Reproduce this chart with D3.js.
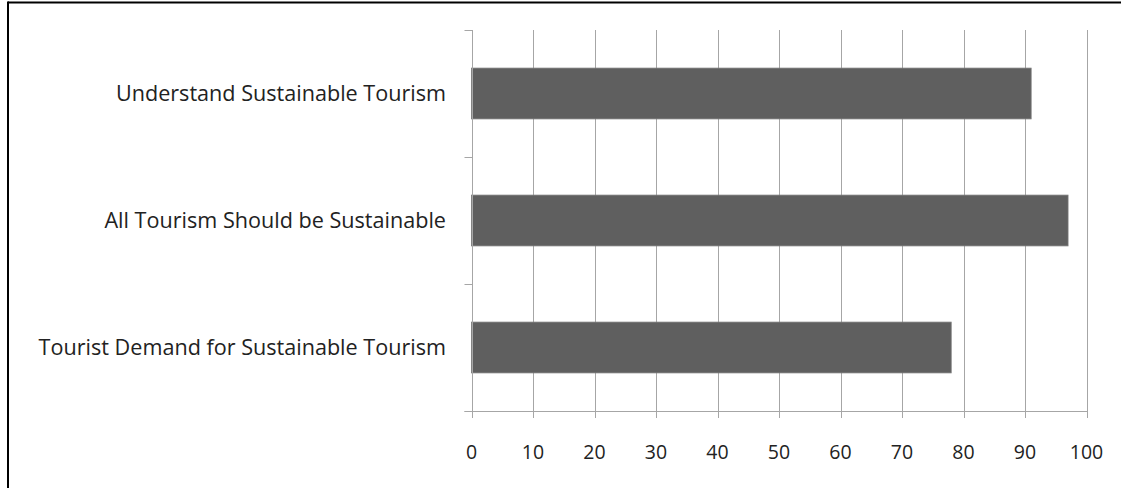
<!DOCTYPE html>
<html>
<head>
<meta charset="utf-8">
<script src="https://cdn.jsdelivr.net/npm/d3@7"></script>
<style>
  html, body { margin: 0; padding: 0; background: #fff; }
  svg { display: block; }
</style>
</head>
<body>
<svg id="chart" width="1121" height="488"></svg>
<script>
const categories = [
  "Understand Sustainable Tourism",
  "All Tourism Should be Sustainable",
  "Tourist Demand for Sustainable Tourism"
];
const values = [91, 97, 78];
const xTicks = [0, 10, 20, 30, 40, 50, 60, 70, 80, 90, 100];

const svg = d3.select("#chart");
const W = 1121, H = 488;
const plot = { left: 471.5, right: 1086.5, top: 30, bottom: 411 };
const font = "'Open Sans', 'DejaVu Sans', sans-serif";

svg.append("rect").attr("width", W).attr("height", H).attr("fill", "#fff");

const x = d3.scaleLinear().domain([0, 100]).range([plot.left, plot.right]);
const y = d3.scaleBand().domain(categories).range([plot.top, plot.bottom])
  .paddingInner(0.6).paddingOuter(0.3);

// vertical gridlines (extend below axis as tick marks)
svg.append("g").selectAll("line").data(xTicks.filter(d => d > 0)).join("line")
  .attr("x1", d => Math.round(x(d)) + 0.5).attr("x2", d => Math.round(x(d)) + 0.5)
  .attr("y1", plot.top).attr("y2", plot.bottom + 7)
  .attr("stroke", "#a6a6a6").attr("stroke-width", 1);

// bars
svg.append("g").selectAll("rect").data(values).join("rect")
  .attr("x", x(0))
  .attr("y", (d, i) => y(categories[i]))
  .attr("width", d => x(d) - x(0))
  .attr("height", y.bandwidth())
  .attr("fill", "#5f5f5f")
  .attr("stroke", "#7a7a7a").attr("stroke-width", 0.8);

// y axis line and boundary ticks
const yAxisX = Math.round(x(0)) + 0.5;
svg.append("line").attr("x1", yAxisX).attr("x2", yAxisX)
  .attr("y1", plot.top).attr("y2", plot.bottom + 7)
  .attr("stroke", "#a6a6a6");
const bounds = categories.map(c => y(c) - y.step() * y.paddingInner() / 2);
bounds.push(plot.bottom);
svg.append("g").selectAll("line").data(bounds).join("line")
  .attr("x1", yAxisX - 8).attr("x2", yAxisX)
  .attr("y1", d => Math.round(d) + 0.5).attr("y2", d => Math.round(d) + 0.5)
  .attr("stroke", "#a6a6a6");

// x axis line
svg.append("line").attr("x1", yAxisX - 8).attr("x2", Math.round(x(100)) + 0.5)
  .attr("y1", plot.bottom + 0.5).attr("y2", plot.bottom + 0.5)
  .attr("stroke", "#a6a6a6");

// x tick labels
svg.append("g").selectAll("text").data(xTicks).join("text")
  .attr("x", d => x(d)).attr("y", 459)
  .attr("text-anchor", "middle")
  .attr("font-family", font).attr("font-size", 19.5)
  .attr("fill", "#222")
  .text(d => d);

// category labels
svg.append("g").selectAll("text").data(categories).join("text")
  .attr("x", 446).attr("y", d => y(d) + y.bandwidth() / 2)
  .attr("dy", "0.35em")
  .attr("text-anchor", "end")
  .attr("font-family", font).attr("font-size", 21.6)
  .attr("fill", "#222")
  .text(d => d);

// frame (top and left border)
svg.append("line").attr("x1", 8).attr("x2", W).attr("y1", 2.5).attr("y2", 2.5)
  .attr("stroke", "#000").attr("stroke-width", 2);
svg.append("line").attr("x1", 8).attr("x2", 8).attr("y1", 1.5).attr("y2", H)
  .attr("stroke", "#000").attr("stroke-width", 2);
</script>
</body>
</html>
